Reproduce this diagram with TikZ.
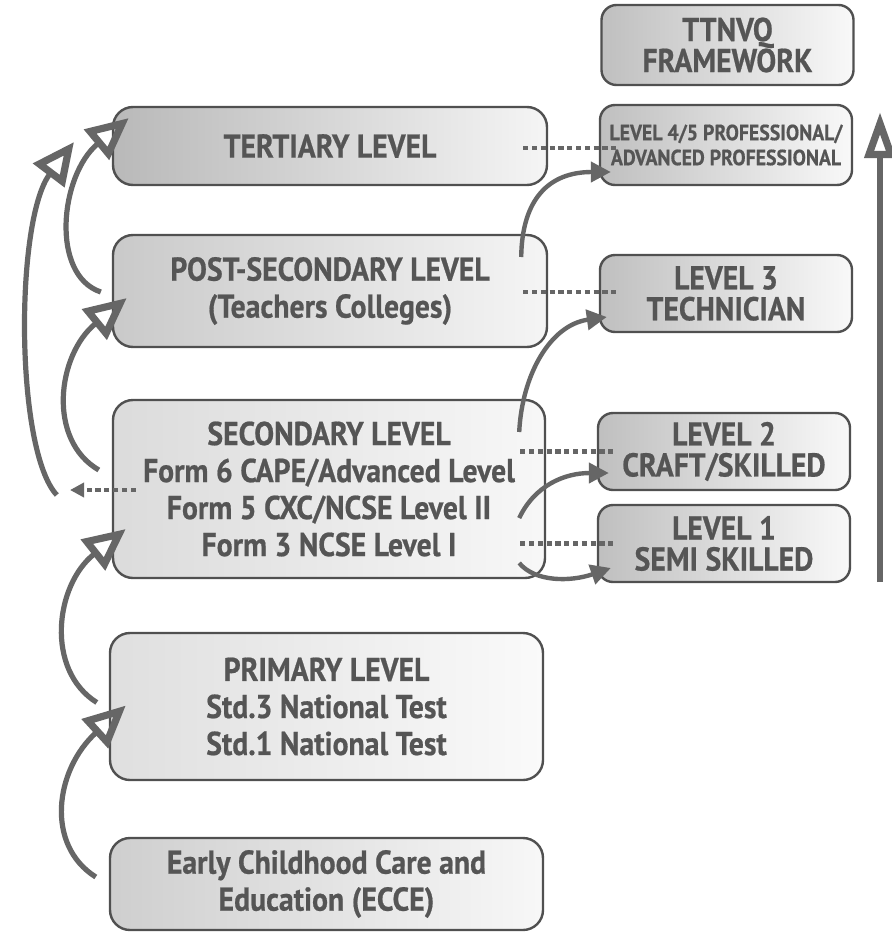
\documentclass[tikz,border=0pt]{standalone}
\usepackage{fontspec}
\setmainfont{PT Sans}[FakeStretch=0.9, BoldFeatures={FakeBold=0.6}]
\usetikzlibrary{arrows.meta}

\definecolor{boxline}{HTML}{505050}
\definecolor{boxtext}{HTML}{555555}
\definecolor{arrowgray}{HTML}{666666}

\tikzset{
  levelbox/.style={draw=boxline, line width=1.2pt, rounded corners=10pt,
    text=boxtext, align=center, inner sep=0pt,
    font=\bfseries\fontsize{16.5}{18.5}\selectfont},
  nvqbox/.style={levelbox, rounded corners=7.5pt, minimum width=126pt,
    minimum height=39pt, left color=gray!50, right color=gray!5,
    font=\bfseries\fontsize{16.5}{15.5}\selectfont},
  upstep/.style={arrowgray, line width=2.6pt,
    -{Triangle[open, length=21pt, width=19pt, line width=3.6pt]}},
  sidestep/.style={arrowgray, line width=2.2pt,
    -{Triangle[length=10pt, width=10pt]}},
  equiv/.style={arrowgray, line width=2.4pt, dash pattern=on 2.6pt off 1.8pt},
}

\begin{document}
\begin{tikzpicture}[x=0.5pt, y=-0.5pt]
\useasboundingbox (0,0) rectangle (892,932);
\fill[white] (0,0) rectangle (892,932);

% Education levels
\node[levelbox, minimum width=217pt, minimum height=39pt,
  left color=gray!55, right color=gray!8] (tert) at (330,146) {TERTIARY LEVEL};
\node[levelbox, minimum width=217pt, minimum height=56pt,
  left color=gray!42, right color=gray!8] (post) at (330,291)
  {POST-SECONDARY LEVEL\\(Teachers Colleges)};
\node[levelbox, minimum width=216pt, minimum height=89pt,
  left color=gray!28, right color=gray!6] (sec) at (329,489)
  {SECONDARY LEVEL\\Form 6 CAPE/Advanced Level\\Form 5 CXC/NCSE Level II\\Form 3 NCSE Level I};
\node[levelbox, minimum width=216.5pt, minimum height=73.5pt,
  left color=gray!25, right color=gray!4] (prim) at (326.5,706.5)
  {PRIMARY LEVEL\\Std.3 National Test\\Std.1 National Test};
\node[levelbox, minimum width=216.5pt, minimum height=46pt,
  left color=gray!38, right color=gray!6] (ecce) at (326.5,884)
  {Early Childhood Care and\\Education (ECCE)};

% TTNVQ levels
\node[nvqbox, minimum height=40pt] (ttnvq) at (727.5,45) {TTNVQ\\FRAMEWORK};
\node[nvqbox, minimum height=40pt, font=\bfseries\fontsize{11}{12.5}\selectfont]
  (lvl45) at (726,145) {LEVEL 4/5 PROFESSIONAL/\\ADVANCED PROFESSIONAL};
\node[nvqbox, minimum height=38.5pt] (lvl3) at (726,293.5) {LEVEL 3\\TECHNICIAN};
\node[nvqbox, minimum height=38.5pt] (lvl2) at (724,451.5) {LEVEL 2\\CRAFT/SKILLED};
\node[nvqbox, minimum height=38.5pt] (lvl1) at (724,543.5) {LEVEL 1\\SEMI SKILLED};

% Progression on the left
\draw[upstep] ([shift={(-13,-7)}]ecce.west) .. controls (45,845) and (55,770) .. ([shift={(17,-1)}]prim.west);
\draw[upstep] ([shift={(-12,-4)}]prim.west) .. controls (45,670) and (55,585) .. ([shift={(14,40)}]sec.west);
\draw[upstep] ([shift={(-13,-19)}]sec.west) .. controls (47,440) and (57,355) .. ([shift={(15,7)}]post.west);
\draw[upstep] ([shift={(-11,1)}]post.west) .. controls (50,275) and (60,175) .. ([shift={(17,-28)}]tert.west);
\coordinate (skip) at (74,142);
\draw[upstep] ([shift={(-55,6)}]sec.west) .. controls (15,450) and (15,220) .. (skip);
\coordinate (exit) at (70,490);
\draw[equiv, -{Triangle[length=7pt, width=7pt]}] ([shift={(24,1)}]sec.west) -- (exit);

% Equivalences
\draw[equiv] ([shift={(-25,2)}]tert.east) -- ([shift={(18,3)}]lvl45.west);
\draw[equiv] ([shift={(-25,1)}]post.east) -- ([shift={(18,-1.5)}]lvl3.west);
\draw[equiv] ([xshift=-13pt]sec.east |- lvl2.west) -- ([xshift=10pt]lvl2.west);
\draw[equiv] ([xshift=-13pt]sec.east |- lvl1.west) -- ([xshift=10pt]lvl1.west);

% Progression on the right
\draw[sidestep] ([shift={(-27,-34)}]post.east) .. controls (522,200) and (548,172) .. ([shift={(12,27)}]lvl45.west);
\draw[sidestep] ([shift={(-27,-57)}]sec.east) .. controls (522,375) and (550,325) .. ([shift={(8,23.5)}]lvl3.west);
\draw[sidestep] ([shift={(-27,29)}]sec.east) .. controls (535,485) and (565,473) .. ([shift={(12,21.5)}]lvl2.west);
\draw[sidestep] ([shift={(-27,74)}]sec.east) .. controls (535,582) and (570,582) .. ([shift={(14,24.5)}]lvl1.west);

% Rising scale
\coordinate (scalebot) at (880,582);
\coordinate (scaletop) at (880,112);
\draw[arrowgray, line width=3.2pt, -{Triangle[open, length=23pt, width=15pt, line width=3.6pt]}] (scalebot) -- (scaletop);
\end{tikzpicture}
\end{document}
